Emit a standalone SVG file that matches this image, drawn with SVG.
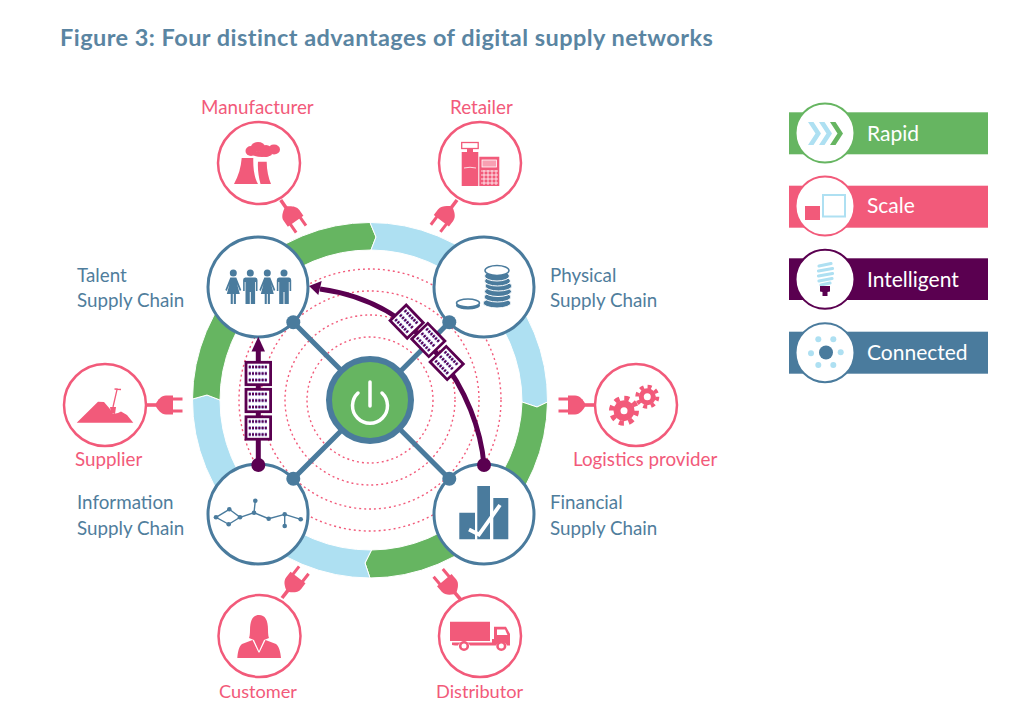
<svg xmlns="http://www.w3.org/2000/svg" width="1029" height="726" viewBox="0 0 1029 726">
<style>
text{font-family:"Lato","Liberation Sans",sans-serif}
.t{font-size:23.5px;font-weight:700;fill:#5a85a2;letter-spacing:.45px}
.b{font-size:18.8px;fill:#4f7d9c}
.p{font-size:18.8px;fill:#f25a7a}
.q{font-size:18.2px;fill:#f25a7a}
.l{font-size:21px;fill:#fff}
.pk{fill:none;stroke:#f25a7a;stroke-width:2.5}
.pf{fill:#f25a7a}
.bf{fill:#4a7b9d}
.hub{fill:#fff;stroke:#4a7b9d;stroke-width:3}
.dot{fill:none;stroke:#f25a7a;stroke-width:1.4;stroke-dasharray:2 3}
.spoke{stroke:#4a7b9d;stroke-width:5;fill:none}
.g{fill:#66b561;stroke:#fff;stroke-width:1}
.c{fill:#aee0f2;stroke:#fff;stroke-width:1}
.pu{fill:#5a0050}
.net{stroke:#4a7b9d;stroke-width:1.4;fill:none}
.coin{fill:#4a7b9d;stroke:#fff;stroke-width:1}
</style>
<defs>
<g id="plug"><path d="M0-1.800H10V1.800H0Z" class="pf"/><path d="M26-9.500H19C14-9.500 11-5 9-1.800V1.800C11 5 14 9.500 19 9.500H26Z" class="pf"/><path d="M25-7.500H35.500V-4.500H25ZM25 4.500H35.500V7.500H25Z" class="pf"/></g>
<g id="man"><circle r="3.500" class="bf"/><path class="bf" d="M-5 4.500H5Q7.200 4.500 7.200 7V18H5.600V9H4.800V31H.5V19H-.5V31H-4.800V9H-5.600V18H-7.200V7Q-7.200 4.500-5 4.500Z"/></g>
<g id="woman"><circle r="3.500" class="bf"/><path class="bf" d="M-3 4.500H3L8 17 6.500 18 3.800 11 6.500 21H2.600V31H.5V21H-.5V31H-2.600V21H-6.500L-3.800 11-6.500 18-8 17Z"/></g>
<g id="chip"><rect x="-12.300" y="-11.200" width="24.600" height="22.400" fill="#fff" stroke="#5a0050" stroke-width="2.800"/><path d="M-9.500-6.500H9.500M-9.500 0H9.500M-9.500 6.500H9.500" stroke="#7a6cc0" stroke-width="3.600" stroke-dasharray="2 1.200"/><path d="M-9.500-6.500H9.500M-9.500 0H9.500M-9.500 6.500H9.500" stroke="#5a0050" stroke-width="2" stroke-dasharray="2 1.200"/></g>
</defs>

<text class="t" x="60" y="46">Figure 3: Four distinct advantages of digital supply networks</text>

<g id="ring">
<path class="g" d="M244.500 274.500A177.500 177.500 0 0 1 370 222.500L376 237 371 250A150 150 0 0 0 264 294Z"/>
<path class="c" d="M370 222.500A177.500 177.500 0 0 1 495.500 274.500L476 294A150 150 0 0 0 371 250L376 237Z"/>
<path class="c" d="M495.500 274.500A177.500 177.500 0 0 1 547.500 402L537 407 522 402A150 150 0 0 0 476 294Z"/>
<path class="g" d="M547.500 402A177.500 177.500 0 0 1 495.500 525.500L476 506A150 150 0 0 0 522 402L537 407Z"/>
<path class="g" d="M495.500 525.500A177.500 177.500 0 0 1 370 578L365 563 371.500 550A150 150 0 0 0 476 506Z"/>
<path class="c" d="M370 578A177.500 177.500 0 0 1 244.500 525.500L264 506A150 150 0 0 0 371.500 550L365 563Z"/>
<path class="c" d="M244.500 525.500A177.500 177.500 0 0 1 192.500 399L207 395 220 400A150 150 0 0 0 264 506Z"/>
<path class="g" d="M192.500 399A177.500 177.500 0 0 1 244.500 274.500L264 294A150 150 0 0 0 220 400L207 395Z"/>
</g>

<g id="dotted-rings">
<circle class="dot" cx="370" cy="400" r="63"/>
<circle class="dot" cx="370" cy="400" r="85"/>
<circle class="dot" cx="370" cy="400" r="109"/>
<circle class="dot" cx="370" cy="400" r="131"/>
</g>

<g id="node-talent">
<circle class="hub" cx="258" cy="287" r="50"/>
<use href="#woman" x="233.300" y="273"/>
<use href="#man" x="250.300" y="273"/>
<use href="#woman" x="267.300" y="273"/>
<use href="#man" x="284" y="273"/>
<text class="b" x="77" y="281.500">Talent</text>
<text class="b" x="77" y="306.500">Supply Chain</text>
</g>
<g id="node-physical">
<circle class="hub" cx="484" cy="287" r="50"/>
<g class="coin">
<ellipse cx="497" cy="303" rx="14" ry="5"/>
<ellipse cx="497.500" cy="297" rx="13.500" ry="5"/>
<ellipse cx="498" cy="291.500" rx="13.500" ry="5"/>
<ellipse cx="498.500" cy="286" rx="13.500" ry="5"/>
<ellipse cx="497.500" cy="281" rx="13" ry="5"/>
<ellipse cx="497" cy="276" rx="12.500" ry="5"/>
</g>
<ellipse cx="497" cy="270.500" rx="12" ry="5" fill="#fff" stroke="#4a7b9d" stroke-width="1.500"/>
<ellipse cx="468" cy="305.500" rx="12" ry="4" class="bf"/>
<ellipse cx="468" cy="303" rx="11.500" ry="4" fill="#fff" stroke="#4a7b9d" stroke-width="1.500"/>
<text class="b" x="550" y="281.500">Physical</text>
<text class="b" x="550" y="306.500">Supply Chain</text>
</g>
<g id="node-information">
<circle class="hub" cx="258" cy="514" r="50"/>
<path class="net" d="M216 517.300L229.300 509.300 240 517.300 228.700 524.300ZM240 517.300L254 512.700 255.300 500.700M254 512.700L268.700 518.700 284.700 514.300 284.700 526M284.700 514.300L300.700 519.300"/>
<g class="bf"><circle cx="216" cy="517.300" r="2.300"/><circle cx="229.300" cy="509.300" r="2.300"/><circle cx="228.700" cy="524.300" r="2.300"/><circle cx="240" cy="517.300" r="2.300"/><circle cx="254" cy="512.700" r="2.300"/><circle cx="255.300" cy="500.700" r="2.300"/><circle cx="268.700" cy="518.700" r="2.300"/><circle cx="284.700" cy="514.300" r="2.300"/><circle cx="284.700" cy="526" r="2.300"/><circle cx="300.700" cy="519.300" r="2.300"/></g>
<text class="b" x="77" y="508.500">Information</text>
<text class="b" x="77" y="534.500">Supply Chain</text>
</g>
<g id="node-financial">
<circle class="hub" cx="484" cy="514" r="50"/>
<path class="bf" d="M459.300 512.700H475V539.300H459.300ZM477.300 486H490V539.300H477.300ZM493.300 498H508.300V539.300H493.300Z"/>
<path d="M469 529.500L479 534.500 500 505" fill="none" stroke="#fff" stroke-width="3.800"/>
<text class="b" x="550" y="508.500">Financial</text>
<text class="b" x="550" y="534.500">Supply Chain</text>
</g>

<g id="connectors">
<path class="spoke" d="M293.300 322.300L449.300 478.700M449.300 322.300L293.300 478.700"/>
<circle class="bf" cx="293.300" cy="322.300" r="7"/>
<circle class="bf" cx="449.300" cy="322.300" r="7"/>
<circle class="bf" cx="293.300" cy="478.700" r="7"/>
<circle class="bf" cx="449.300" cy="478.700" r="7"/>
<g id="plugs">
<use href="#plug" transform="translate(280.700 200) rotate(55)"/>
<use href="#plug" transform="translate(457 200) rotate(127)"/>
<use href="#plug" transform="translate(282 598) rotate(-52)"/>
<use href="#plug" transform="translate(461 600) rotate(-130)"/>
<use href="#plug" transform="translate(147 405)"/>
<use href="#plug" transform="translate(594 405) rotate(180)"/>
</g>
</g>

<g id="hub-center">
<circle cx="370" cy="400" r="41" fill="#66b561" stroke="#4a7b9d" stroke-width="6"/>
<path d="M358 393A17.500 17.500 0 1 0 382 393M370 382V406" fill="none" stroke="#fff" stroke-width="3.500" stroke-linecap="round"/>
</g>

<g id="data-flows">
<path d="M258.300 465V350" stroke="#5a0050" stroke-width="5" fill="none"/>
<circle class="pu" cx="258.300" cy="465" r="7"/>
<path class="pu" d="M258.300 336.700L265 351.500H251.500Z"/>
<use href="#chip" x="258.300" y="373.500"/>
<use href="#chip" x="258.300" y="400.500"/>
<use href="#chip" x="258.300" y="428"/>
<path d="M484 465C478 395 425 303 320 289" stroke="#5a0050" stroke-width="5" fill="none"/>
<circle class="pu" cx="484" cy="465" r="7"/>
<path class="pu" d="M309 286L321.700 281 318.300 295Z"/>
<use href="#chip" transform="translate(406.700 321.700) rotate(46)"/>
<use href="#chip" transform="translate(428.300 340) rotate(46)"/>
<use href="#chip" transform="translate(446.700 363) rotate(46)"/>
</g>

<g id="node-manufacturer">
<circle class="pk" cx="259" cy="163" r="41"/>
<path class="pf" d="M234 184C238.500 176 241 167 241.700 158H253.300C253 167 254 177 258 184ZM258 161.700H266.700C266.700 170 268.500 178 271 184H260.500C258.500 176 257.500 169 258 161.700Z"/>
<ellipse class="pf" cx="251" cy="151" rx="5.500" ry="5"/>
<ellipse class="pf" cx="258" cy="147" rx="7" ry="5"/>
<ellipse class="pf" cx="266" cy="151" rx="6" ry="6"/>
<ellipse class="pf" cx="274" cy="149.500" rx="6" ry="5"/>
<ellipse class="pf" cx="262" cy="154" rx="10" ry="3"/>
<text class="p" x="201" y="114">Manufacturer</text>
</g>
<g id="node-retailer">
<circle class="pk" cx="480" cy="163" r="41"/>
<rect x="461.700" y="142.500" width="16.500" height="6" fill="#fff" stroke="#f25a7a" stroke-width="1.300"/>
<path class="pf" d="M467 149H473V152H478.300V186H461.700V152H467ZM479.300 156.700H499.300V186H479.300Z"/>
<path d="M464 168Q470 166.500 476 168" fill="none" stroke="#fff" stroke-width=".8"/>
<rect x="482" y="160" width="14.500" height="7" fill="#f8a0b2" stroke="#fff" stroke-width=".8"/>
<path d="M481 171H498M481 175H498M481 179H498M481 183H498M484 170V185M488 170V185M492 170V185M496 170V185" stroke="#fff" stroke-width=".8" fill="none"/>
<text class="p" x="450" y="114">Retailer</text>
</g>
<g id="node-supplier">
<circle class="pk" cx="105" cy="405" r="41"/>
<path class="pf" d="M76.700 422.700L98 401.700 104 402 110 409 113 414 118 413 121 411.500 127 415 133.300 422.700Z"/>
<path d="M117.300 388.300L113 407M114.500 389L121 389.500" stroke="#f25a7a" stroke-width="1.300" fill="none"/>
<path class="pf" d="M110 407H116L115 414 111 413Z"/>
<text class="p" x="75" y="465.500">Supplier</text>
</g>
<g id="node-logistics">
<circle class="pk" cx="636" cy="405" r="41"/>
<circle class="pf" cx="624" cy="410.700" r="10.500"/>
<circle cx="624" cy="410.700" r="12.500" fill="none" stroke="#f25a7a" stroke-width="5" stroke-dasharray="5 4.800"/>
<circle cx="624" cy="410.700" r="3.500" fill="#fff"/>
<circle class="pf" cx="647.300" cy="396.700" r="8.500"/>
<circle cx="647.300" cy="396.700" r="10" fill="none" stroke="#f25a7a" stroke-width="4" stroke-dasharray="4 3.850"/>
<circle cx="647.300" cy="396.700" r="3.500" fill="#fff"/>
<text class="p" x="573" y="465.500">Logistics provider</text>
</g>
<g id="node-customer">
<circle class="pk" cx="259.500" cy="636" r="41"/>
<path class="pf" d="M250 630C250 620 253 615 259 615S268 620 268 630C268 634 268.500 637 269 638L264 640 259 651 254 640 249 638C249.500 637 250 634 250 630Z"/>
<path class="pf" d="M252.500 640L258.500 652.500 259.500 652.500 265.500 640 276 644C279 646 280.500 652 281 658H237.300C237.800 652 239 646 242 644Z"/>
<text class="q" x="219" y="698">Customer</text>
</g>
<g id="node-distributor">
<circle class="pk" cx="480" cy="636" r="41"/>
<path class="pf" d="M450 621.700H490V641H450ZM452 642.500H492V639H494V626.700H506L510 634V645.500H507C506 641 497 641 496 645.500H470C469 641 459 641 458 645.500H455L452 645Z"/>
<path d="M497 629.500H505L507.500 635H497Z" fill="#fff"/>
<circle cx="464" cy="646" r="3.800" fill="#fff" stroke="#f25a7a" stroke-width="2.600"/>
<circle cx="501.300" cy="646" r="3.800" fill="#fff" stroke="#f25a7a" stroke-width="2.600"/>
<text class="q" x="436" y="698">Distributor</text>
</g>

<g id="legend-rapid">
<rect x="789" y="112.300" width="199" height="42" fill="#66b561"/>
<circle cx="825" cy="133" r="29.500" fill="#fff" stroke="#66b561" stroke-width="2"/>
<path d="M808 122H813.500L821 133.500 813.500 145H808L815.500 133.500ZM819 122H824.500L832 133.500 824.500 145H819L826.500 133.500Z" fill="#aee0f2"/>
<path d="M830 122H835.500L843 133.500 835.500 145H830L837.500 133.500Z" fill="#66b561"/>
<text class="l" x="867" y="141">Rapid</text>
</g>
<g id="legend-scale">
<rect x="789" y="185.700" width="199" height="42" fill="#f25a7a"/>
<circle cx="825" cy="206" r="29.500" fill="#fff" stroke="#f25a7a" stroke-width="2"/>
<rect x="805" y="206" width="15" height="14" fill="#f25a7a"/>
<rect x="823" y="195" width="22" height="21.500" fill="#fff" stroke="#aee0f2" stroke-width="2"/>
<text class="l" x="867" y="213">Scale</text>
</g>
<g id="legend-intelligent">
<rect x="789" y="258.300" width="199" height="41.700" fill="#5a0050"/>
<circle cx="825" cy="279.300" r="29.500" fill="#fff" stroke="#5a0050" stroke-width="2"/>
<path d="M819 266L831 263.500M818.500 271L832.500 268.500M818.500 276L832.500 273.500M819 281L832 278.500M821 285L830 283" stroke="#aee0f2" stroke-width="3.200" stroke-linecap="round" fill="none"/>
<path class="pu" d="M820 286H830V291.500L827.500 292V296H822.500V292L820 291.500Z"/>
<text class="l" x="867" y="287">Intelligent</text>
</g>
<g id="legend-connected">
<rect x="789" y="331.700" width="199" height="42" class="bf"/>
<circle cx="825" cy="352.700" r="29.500" fill="#fff" stroke="#4a7b9d" stroke-width="2"/>
<circle cx="826" cy="352.500" r="7" class="bf"/>
<g fill="#aee0f2"><circle cx="818.300" cy="339.300" r="3"/><circle cx="833.300" cy="339.300" r="3"/><circle cx="811" cy="353.300" r="3"/><circle cx="840.700" cy="352.300" r="3"/><circle cx="818.300" cy="365" r="3"/><circle cx="833.300" cy="365" r="3"/></g>
<text class="l" x="867" y="360">Connected</text>
</g>
</svg>
